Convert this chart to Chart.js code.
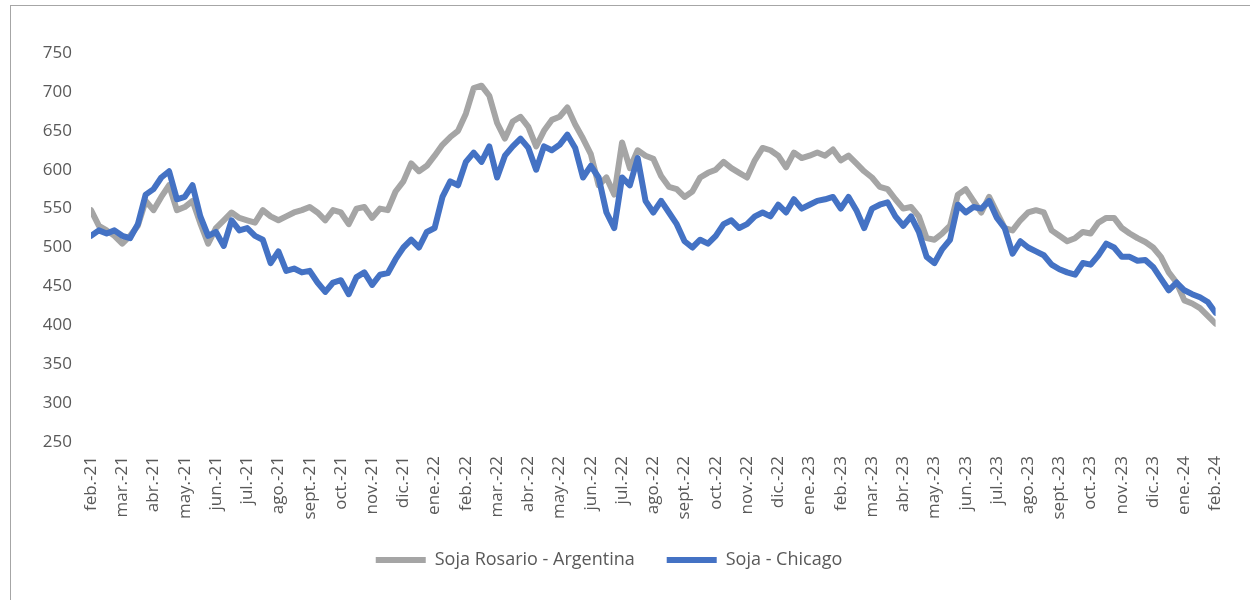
<!DOCTYPE html>
<html>
<head>
<meta charset="utf-8">
<script src="https://cdn.jsdelivr.net/npm/chart.js@4"></script>
<style>
  body { margin: 0; background: #fff; }
  .chart-wrap { position: absolute; left: 0; top: 0; width: 1250px; height: 600px; }
  .frame { position: absolute; left: 10px; top: 5px; width: 1240px; height: 595px;
    border-left: 1px solid #a6a6a6; border-top: 1px solid #a6a6a6; pointer-events: none; }
</style>
</head>
<body>
<div class="chart-wrap"><canvas id="soja" width="1250" height="600"></canvas></div>
<div class="frame"></div>
<script>
const months = ['feb.-21', 'mar.-21', 'abr.-21', 'may.-21', 'jun.-21', 'jul.-21', 'ago.-21', 'sept.-21',
  'oct.-21', 'nov.-21', 'dic.-21', 'ene.-22', 'feb.-22', 'mar.-22', 'abr.-22', 'may.-22', 'jun.-22',
  'jul.-22', 'ago.-22', 'sept.-22', 'oct.-22', 'nov.-22', 'dic.-22', 'ene.-23', 'feb.-23', 'mar.-23',
  'abr.-23', 'may.-23', 'jun.-23', 'jul.-23', 'ago.-23', 'sept.-23', 'oct.-23', 'nov.-23', 'dic.-23',
  'ene.-24', 'feb.-24'];

// one reading per week (4 per month), starting feb.-21
const rosario = [548, 528, 522, 515, 505, 515, 528, 560, 548, 565, 580, 548, 552, 560, 531, 505,
  525, 535, 545, 538, 535, 532, 548, 540, 535, 540, 545, 548, 552, 545, 535, 548,
  545, 530, 550, 552, 538, 550, 548, 572, 585, 608, 598, 605, 618, 632, 642, 650,
  672, 705, 708, 695, 660, 640, 662, 668, 655, 630, 650, 664, 668, 680, 658, 640,
  620, 580, 590, 568, 635, 602, 625, 618, 614, 592, 578, 575, 565, 572, 590, 596,
  600, 610, 602, 596, 590, 612, 628, 625, 618, 603, 622, 615, 618, 622, 618, 626,
  612, 618, 608, 598, 590, 578, 575, 562, 550, 552, 540, 512, 510, 518, 528, 568,
  575, 560, 545, 565, 545, 525, 522, 535, 545, 548, 545, 522, 515, 508, 512, 520,
  518, 532, 538, 538, 525, 518, 512, 507, 500, 488, 468, 455, 432, 428, 422, 412, 402];

const chicago = [515, 522, 518, 522, 515, 512, 530, 568, 575, 590, 598, 562, 565, 580, 540, 515,
  520, 502, 535, 522, 525, 515, 510, 480, 495, 470, 473, 468, 470, 455, 443, 455,
  458, 440, 462, 468, 452, 465, 467, 485, 500, 510, 500, 520, 525, 565, 585, 580,
  610, 622, 610, 630, 590, 618, 630, 640, 628, 600, 630, 625, 632, 645, 628, 590,
  605, 590, 545, 525, 590, 580, 615, 560, 545, 560, 545, 530, 508, 500, 510, 505,
  515, 530, 535, 525, 530, 540, 545, 540, 555, 545, 562, 550, 555, 560, 562, 565,
  550, 565, 548, 525, 550, 555, 558, 540, 528, 540, 520, 488, 480, 498, 510, 555,
  545, 552, 550, 560, 538, 525, 492, 508, 500, 495, 490, 478, 472, 468, 465, 480,
  478, 490, 505, 500, 488, 488, 483, 484, 475, 460, 445, 455, 445, 440, 436, 430, 416];

const weeksPerMonth = 4;

function toPoints(values) {
  return values.map((v, i) => ({ x: i / weeksPerMonth, y: v }));
}

const font = { family: "'Open Sans', sans-serif", size: 17 };
const textColor = '#595959';

const chart = new Chart(document.getElementById('soja'), {
  type: 'line',
  data: {
    datasets: [
      {
        label: 'Soja - Chicago',
        data: toPoints(chicago),
        borderColor: '#4472C4',
        backgroundColor: '#4472C4',
        borderWidth: 6,
        borderCapStyle: 'round',
        borderJoinStyle: 'round',
        pointRadius: 0,
        tension: 0
      },
      {
        label: 'Soja Rosario - Argentina',
        data: toPoints(rosario),
        borderColor: '#A5A5A5',
        backgroundColor: '#A5A5A5',
        borderWidth: 6,
        borderCapStyle: 'round',
        borderJoinStyle: 'round',
        pointRadius: 0,
        tension: 0
      }
    ]
  },
  options: {
    responsive: false,
    animation: false,
    layout: { padding: { left: 0, top: 53, right: 32, bottom: 21 } },
    plugins: {
      tooltip: { enabled: false },
      legend: {
        position: 'bottom',
        reverse: true,
        labels: {
          usePointStyle: true,
          pointStyle: 'line',
          pointStyleWidth: 50,
          padding: 32,
          color: textColor,
          font: { family: font.family, size: 18 }
        }
      }
    },
    scales: {
      x: {
        type: 'linear',
        min: 0,
        max: months.length - 1,
        grid: { display: false, drawTicks: false },
        border: { display: false },
        afterBuildTicks: scale => {
          scale.ticks = months.map((m, i) => ({ value: i }));
        },
        afterFit: scale => { scale.height = 77; },
        ticks: {
          autoSkip: false,
          minRotation: 90,
          maxRotation: 90,
          padding: 14,
          color: textColor,
          font: font,
          callback: value => months[value]
        }
      },
      y: {
        min: 250,
        max: 750,
        grid: { display: false, drawTicks: false },
        border: { display: false },
        afterFit: scale => { scale.width = 91; },
        ticks: {
          stepSize: 50,
          padding: 19,
          color: textColor,
          font: font
        }
      }
    }
  }
});
</script>
</body>
</html>
